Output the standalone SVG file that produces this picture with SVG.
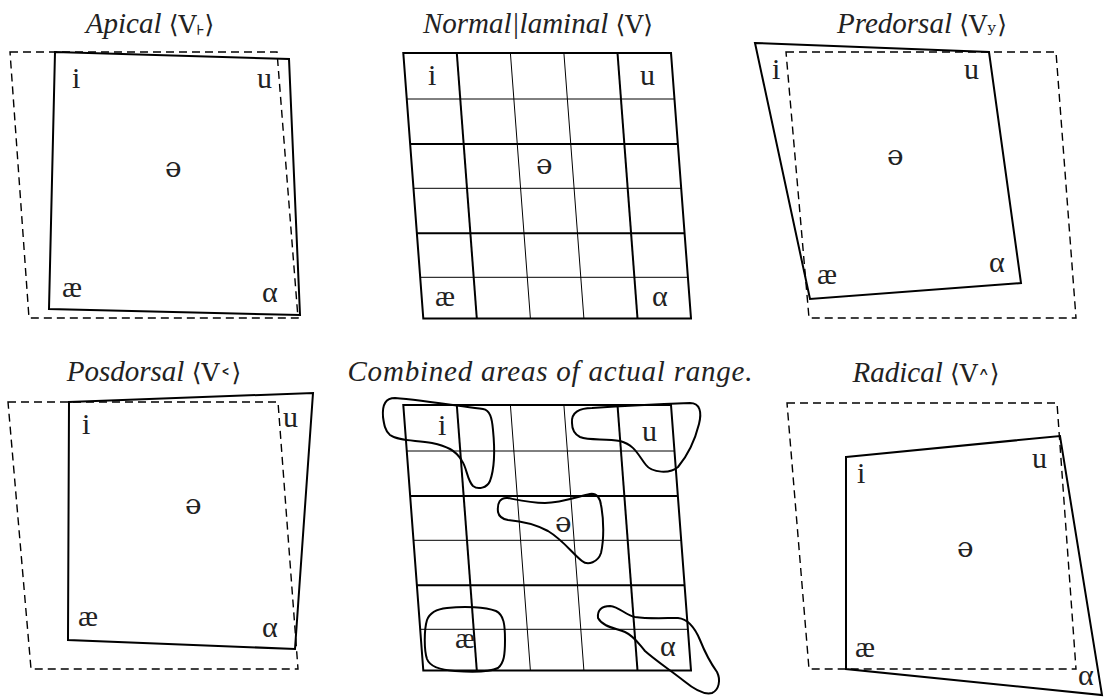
<svg xmlns="http://www.w3.org/2000/svg" width="1104" height="698" viewBox="0 0 1104 698">
<style>
.bg{fill:#fff}
.dash{fill:none;stroke:#000;stroke-width:1.4;stroke-dasharray:8 5}
.quad{fill:none;stroke:#000;stroke-width:2;stroke-linejoin:miter}
.thick{fill:none;stroke:#000;stroke-width:2}
.thin{fill:none;stroke:#000;stroke-width:1}
.blob{fill:none;stroke:#000;stroke-width:2}
.title{font-family:"Liberation Serif","DejaVu Serif",serif;font-style:italic;font-size:29px;fill:#222;text-anchor:middle}
.br{font-family:"DejaVu Serif","Liberation Serif",serif;font-style:normal;font-size:25px}
.md{font-family:"DejaVu Serif","DejaVu Sans",serif;font-style:normal;font-size:24px}
.v{font-family:"Liberation Serif","DejaVu Serif",serif;font-style:normal;font-size:30px;fill:#222}
.sch{font-family:"DejaVu Serif","Liberation Serif",serif;font-size:28px}
</style>
<defs>
<g id="grid">
<polygon class="thick" points="403.3,53 671,53 691,318.5 423.3,318.5"/>
<line class="thick" x1="456.8" y1="53" x2="476.8" y2="318.5"/>
<line class="thin" x1="510.4" y1="53" x2="530.4" y2="318.5"/>
<line class="thin" x1="563.9" y1="53" x2="583.9" y2="318.5"/>
<line class="thick" x1="617.5" y1="53" x2="637.5" y2="318.5"/>
<line class="thin" x1="406.8" y1="99" x2="674.5" y2="99"/>
<line class="thick" x1="410.2" y1="144" x2="677.9" y2="144"/>
<line class="thin" x1="413.5" y1="188.3" x2="681.2" y2="188.3"/>
<line class="thick" x1="416.9" y1="233.3" x2="684.6" y2="233.3"/>
<line class="thin" x1="420.2" y1="277.3" x2="687.9" y2="277.3"/>
</g>
</defs>
<rect class="bg" x="0" y="0" width="1104" height="698"/>

<g id="apical">
<text class="title" x="150" y="32.5">Apical <tspan class="br">⟨V</tspan><tspan class="md" dy="2">˫</tspan><tspan class="br" dy="-2">⟩</tspan></text>
<polygon class="dash" points="10,52 277,52 298,318 29,318"/>
<polygon class="quad" points="55,52 289,59 300,315 49,309"/>
<text class="v" x="72" y="88">i</text>
<text class="v" x="257" y="88">u</text>
<text class="v sch" x="165" y="177">ə</text>
<text class="v" x="62" y="297">æ</text>
<text class="v" x="262" y="302">α</text>
</g>

<g id="laminal">
<text class="title" x="538" y="33">Normal|laminal <tspan class="br">⟨V⟩</tspan></text>
<use href="#grid"/>
<text class="v" x="428" y="85">i</text>
<text class="v" x="640" y="85">u</text>
<text class="v sch" x="536" y="174">ə</text>
<text class="v" x="435" y="306">æ</text>
<text class="v" x="652" y="306">α</text>
</g>

<g id="predorsal">
<text class="title" x="922" y="32.5">Predorsal <tspan class="br">⟨V</tspan><tspan class="md" dy="7">ʸ</tspan><tspan class="br" dy="-7">⟩</tspan></text>
<polygon class="dash" points="786,52 1056,52 1076,318 809,318"/>
<polygon class="quad" points="755,43 989,52 1021,283 810,299"/>
<text class="v" x="772" y="79">i</text>
<text class="v" x="964" y="79">u</text>
<text class="v sch" x="887" y="165">ə</text>
<text class="v" x="817" y="284">æ</text>
<text class="v" x="989" y="272">α</text>
</g>

<g id="posdorsal">
<text class="title" x="154" y="381">Posdorsal <tspan class="br">⟨V</tspan><tspan class="md" dy="7">˂</tspan><tspan class="br" dy="-7">⟩</tspan></text>
<polygon class="dash" points="8,402 278,402 298,669 31,669"/>
<polygon class="quad" points="69,402 313,393 295,649 68,640"/>
<text class="v" x="82" y="434">i</text>
<text class="v" x="283" y="427">u</text>
<text class="v sch" x="185" y="514">ə</text>
<text class="v" x="78" y="626">æ</text>
<text class="v" x="262" y="637">α</text>
</g>

<g id="combined">
<text class="title" x="550" y="381" textLength="405" lengthAdjust="spacing">Combined areas of actual range.</text>
<use href="#grid" y="352"/>
<path class="blob" d="M383,417 C382,404 386,398 395,398 C420,400 460,406 483,409 C490,410 492,418 493,430 C495,450 494,470 490,481 C487,488 478,490 473,486 C467,480 467,468 462,461 C456,450 446,446 432,443 C415,440 398,441 390,435 C385,431 384,424 383,417 Z"/>
<path class="blob" d="M572,423 C571,412 580,408 592,408 C620,406 660,404 690,403 C700,403 702,412 699,424 C695,440 688,455 678,467 C670,474 652,473 646,465 C638,455 635,445 620,441 C605,438 590,441 580,437 C574,434 572,429 572,423 Z"/>
<path class="blob" d="M498,512 C497,503 500,497 508,498 C518,500 530,503 545,503 C560,503 577,497 590,494 C597,493 600,498 601,505 C604,520 604,540 601,553 C598,562 588,566 582,561 C572,553 563,540 548,531 C535,524 520,521 508,520 C502,519 499,517 498,512 Z"/>
<path class="blob" d="M447,608 C465,606 485,607 496,611 C504,615 505,625 505,640 C505,655 504,663 498,668 C490,672 470,672 455,671 C440,670 430,667 427,659 C424,650 424,630 427,620 C430,612 437,609 447,608 Z"/>
<path class="blob" d="M598,618 C597,610 602,606 610,606 C620,607 625,615 635,617 C648,619 665,618 678,618 C688,619 695,628 700,640 C706,655 712,665 717,672 C721,680 719,690 712,693 C705,695 695,690 684,681 C670,670 655,660 645,651 C638,643 634,636 625,632 C615,628 603,627 598,618 Z"/>
<text class="v" x="438" y="435">i</text>
<text class="v" x="642" y="441">u</text>
<text class="v sch" x="555" y="532">ə</text>
<text class="v" x="455" y="648">æ</text>
<text class="v" x="660" y="656">α</text>
</g>

<g id="radical">
<text class="title" x="926" y="381.5">Radical <tspan class="br">⟨V</tspan><tspan class="md" dy="7">˄</tspan><tspan class="br" dy="-7">⟩</tspan></text>
<polygon class="dash" points="787,403 1057,403 1076,669 809,669"/>
<polygon class="quad" points="846,457 1060,436 1102,695 846,669"/>
<text class="v" x="857" y="483">i</text>
<text class="v" x="1032" y="468">u</text>
<text class="v sch" x="957" y="557">ə</text>
<text class="v" x="855" y="657">æ</text>
<text class="v" x="1078" y="685">α</text>
</g>
</svg>
